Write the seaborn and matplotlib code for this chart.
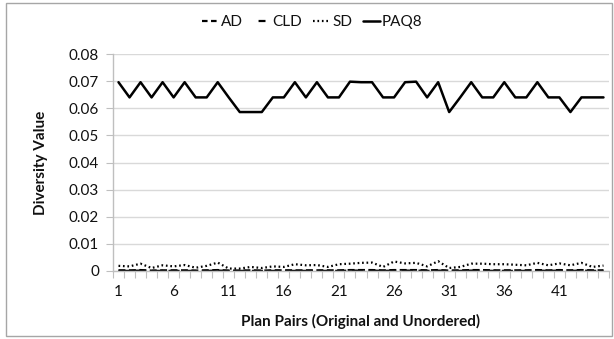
import matplotlib
matplotlib.use("Agg")
import matplotlib.pyplot as plt
import numpy as np
import pandas as pd
import seaborn as sns
from matplotlib.lines import Line2D
from matplotlib.patches import Rectangle

# Plan pairs 1..45
pairs = list(range(1, 46))

paq8 = [0.0696, 0.0640, 0.0696, 0.0640, 0.0696, 0.0640, 0.0696, 0.0640, 0.0640, 0.0696,
        0.0640, 0.0586, 0.0586, 0.0586, 0.0640, 0.0640, 0.0696, 0.0640, 0.0696, 0.0640,
        0.0640, 0.0698, 0.0696, 0.0696, 0.0640, 0.0640, 0.0696, 0.0698, 0.0640, 0.0696,
        0.0586, 0.0640, 0.0696, 0.0640, 0.0640, 0.0696, 0.0640, 0.0640, 0.0696, 0.0640,
        0.0640, 0.0586, 0.0640, 0.0640, 0.0640]

sd = [0.0019, 0.0017, 0.0027, 0.0011, 0.0021, 0.0017, 0.0022, 0.0012, 0.0019, 0.0031,
      0.0009, 0.0009, 0.0015, 0.0011, 0.0017, 0.0015, 0.0025, 0.0021, 0.0022, 0.0015,
      0.0025, 0.0027, 0.0030, 0.0031, 0.0015, 0.0035, 0.0028, 0.0030, 0.0017, 0.0036,
      0.0011, 0.0015, 0.0027, 0.0027, 0.0025, 0.0025, 0.0023, 0.0021, 0.0030, 0.0021,
      0.0028, 0.0021, 0.0030, 0.0015, 0.0020]

ad = [0.0003, 0.0003, 0.0004, 0.0002, 0.0003, 0.0003, 0.0003, 0.0002, 0.0003, 0.0004,
      0.0002, 0.0002, 0.0003, 0.0002, 0.0003, 0.0003, 0.0003, 0.0003, 0.0003, 0.0003,
      0.0003, 0.0004, 0.0004, 0.0004, 0.0003, 0.0004, 0.0004, 0.0004, 0.0003, 0.0004,
      0.0002, 0.0003, 0.0004, 0.0004, 0.0003, 0.0003, 0.0003, 0.0003, 0.0004, 0.0003,
      0.0004, 0.0003, 0.0004, 0.0003, 0.0003]

cld = [0.0001, 0.0001, 0.0002, 0.0001, 0.0001, 0.0001, 0.0001, 0.0001, 0.0001, 0.0002,
       0.0001, 0.0001, 0.0001, 0.0001, 0.0001, 0.0001, 0.0001, 0.0001, 0.0001, 0.0001,
       0.0001, 0.0002, 0.0002, 0.0002, 0.0001, 0.0002, 0.0002, 0.0002, 0.0001, 0.0002,
       0.0001, 0.0001, 0.0002, 0.0002, 0.0001, 0.0001, 0.0001, 0.0001, 0.0002, 0.0001,
       0.0002, 0.0001, 0.0002, 0.0001, 0.0001]

series_names = ["AD", "CLD", "SD", "PAQ8"]
x_tick_values = [1, 6, 11, 16, 21, 26, 31, 36, 41]
y_tick_values = [0, 0.01, 0.02, 0.03, 0.04, 0.05, 0.06, 0.07, 0.08]
y_tick_labels = ["0", "0.01", "0.02", "0.03", "0.04", "0.05", "0.06", "0.07", "0.08"]

df = pd.DataFrame({"pair": pairs, "AD": ad, "CLD": cld, "SD": sd, "PAQ8": paq8})
long_df = df.melt(id_vars="pair", var_name="series", value_name="value")

sns.set_theme(style="white")
plt.rcParams["font.family"] = ["Lato", "DejaVu Sans"]
plt.rcParams["lines.scale_dashes"] = False

FS = 11

fig = plt.figure(figsize=(6.14, 3.39), dpi=100)
ax = fig.add_axes([113 / 614, 68 / 339, 496 / 614, 217 / 339])

styles = {
    "AD": dict(dashes=(5, 2.5), lw=1.4),
    "CLD": dict(dashes=(8, 4), lw=1.4),
    "SD": dict(dashes=(1.2, 2), lw=1.6),
    "PAQ8": dict(dashes=None, lw=1.8),
}

for name in series_names:
    sub = long_df[long_df["series"] == name]
    st = styles[name]
    line_kw = dict(color="black", lw=st["lw"])
    if st["dashes"] is not None:
        line_kw["dashes"] = st["dashes"]
    sns.lineplot(data=sub, x="pair", y="value", ax=ax, legend=False, **line_kw)

ax.set_xlim(0.5, 45.5)
ax.set_ylim(0, 0.08)
ax.set_yticks(y_tick_values)
ax.set_yticklabels(y_tick_labels)
ax.set_xticks(x_tick_values)
ax.set_xticklabels([str(v) for v in x_tick_values])
ax.set_xticks(np.arange(0.5, 46, 1), minor=True)

ax.grid(axis="y", color="#D9D9D9", lw=1.0)
ax.set_axisbelow(True)
for side in ["top", "right"]:
    ax.spines[side].set_visible(False)
for side in ["left", "bottom"]:
    ax.spines[side].set_color("#BFBFBF")
    ax.spines[side].set_linewidth(1.0)

ax.tick_params(axis="x", which="major", length=0, pad=10, labelsize=FS, colors="#111111")
ax.tick_params(axis="x", which="minor", length=5, width=0.8, color="#BFBFBF", direction="out", bottom=True)
ax.tick_params(axis="y", which="major", length=5, width=0.8, color="#BFBFBF", direction="out",
               left=True, pad=5, labelsize=FS, labelcolor="#111111")

ax.set_xlabel("Plan Pairs (Original and Unordered)", fontsize=FS, fontweight="bold", labelpad=11,
              color="#111111")
ax.set_ylabel("Diversity Value", fontsize=FS, fontweight="bold", labelpad=15, color="#111111")

handles = [
    Line2D([], [], color="black", lw=1.6, dashes=(4, 2.5)),
    Line2D([], [], color="black", lw=1.6, linestyle=(15, (5, 14))),
    Line2D([], [], color="black", lw=1.6, dashes=(1.2, 2)),
    Line2D([], [], color="black", lw=1.8),
]
fig.legend(handles, series_names, loc="center", bbox_to_anchor=(312 / 614, 1 - 22 / 339),
           ncol=4, frameon=False, fontsize=FS, handlelength=1.1, handletextpad=0.15,
           columnspacing=0.7, labelcolor="#111111")

fig.patches.append(Rectangle((6 / 614, 3 / 339), 606 / 614, 333 / 339, transform=fig.transFigure,
                             fill=False, edgecolor="#A6A6A6", lw=1.0))

fig.savefig("out.png", dpi=100)
